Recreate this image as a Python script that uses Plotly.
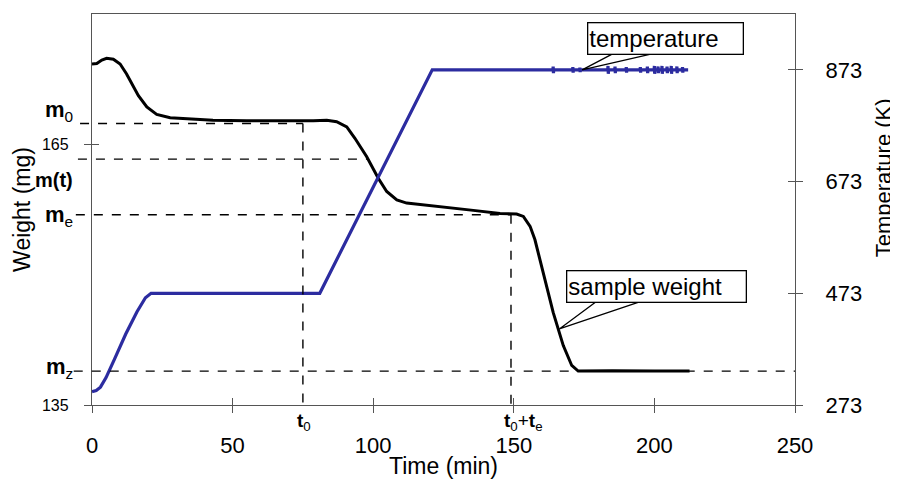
import plotly.graph_objects as go

# ---------------- data ----------------
weight_time = [0, 1.7, 3.5, 5.2, 7.6, 10, 12.3, 14.1, 16.5, 19.5, 23, 27.8, 34.9, 43, 55,
               72.8, 78.7, 83.5, 87, 90.6, 93.5, 97.7, 101.8, 104.8, 108.4, 111.9, 123.8,
               135.6, 145.1, 151, 153.4, 155.8, 157.5, 160.5, 164, 167.6, 170.6, 172.9,
               185, 200, 212.5]
weight_mg = [174.25, 174.3, 174.7, 174.9, 174.8, 174.25, 173.1, 172.0, 170.6, 169.3, 168.45,
             168.07, 167.9, 167.77, 167.7, 167.65, 167.7, 167.77, 167.6, 167.0, 165.7, 163.57,
             161.1, 159.57, 158.6, 158.24, 157.85, 157.4, 157.05, 156.98, 156.7, 155.56,
             154.04, 150.23, 145.66, 141.84, 139.55, 138.9, 138.95, 138.9, 138.9]

temp_time = [0, 1.5, 3, 5, 8, 12, 16, 19, 21, 81, 121, 150,
             163.9, 164.0, 164.1, 164.2,
             170.9, 171.0, 171.1, 171.2,
             173.4, 173.5, 173.6, 173.7,
             183.4, 183.5, 183.6, 183.7,
             185.9, 186.0, 186.1, 186.2,
             189.9, 190.0, 190.1, 190.2,
             194.9, 195.0, 195.1, 195.2,
             197.4, 197.5, 197.6, 197.7,
             199.9, 200.0, 200.1, 200.2,
             201.2, 201.3, 201.4, 201.5,
             202.6, 202.7, 202.8, 202.9,
             204.4, 204.5, 204.6, 204.7,
             205.9, 206.0, 206.1, 206.2,
             207.9, 208.0, 208.1, 208.2,
             209.9, 210.0, 210.1, 210.2,
             212]
temp_K = [297, 299, 305, 322, 355, 400, 440, 465, 473, 473, 873, 873,
          873, 879, 867, 873,
          873, 878, 868, 873,
          873, 877, 869, 873,
          873, 880, 866, 873,
          873, 879, 867, 873,
          873, 878, 868, 873,
          873, 878, 868, 873,
          873, 879, 867, 873,
          873, 880, 866, 873,
          873, 879, 867, 873,
          873, 880, 866, 873,
          873, 879, 867, 873,
          873, 880, 866, 873,
          873, 879, 867, 873,
          873, 878, 868, 873,
          873]

x_ticks = [0, 50, 100, 150, 200, 250]
w_ticks = [135, 165]
t_ticks = [273, 473, 673, 873]

X_MAX = 250
W_RANGE = [135, 180]
T_RANGE = [273, 973]

m0, mt, me, mz = 167.4, 163.3, 156.9, 138.9
t0, t0_te = 75, 149

FONT = "Liberation Sans, Arial, sans-serif"


def xp(t):
    return t / X_MAX


fig = go.Figure()
fig.add_trace(go.Scatter(x=weight_time, y=weight_mg, mode="lines",
                         line=dict(color="black", width=3), yaxis="y",
                         showlegend=False, hoverinfo="skip"))
fig.add_trace(go.Scatter(x=temp_time, y=temp_K, mode="lines",
                         line=dict(color="rgb(44,44,160)", width=3.2), yaxis="y2",
                         showlegend=False, hoverinfo="skip"))
# dummy traces to create overlay axes carrying inward tick marks
fig.add_trace(go.Scatter(x=[None], y=[None], xaxis="x2", yaxis="y", showlegend=False, hoverinfo="skip"))
fig.add_trace(go.Scatter(x=[None], y=[None], xaxis="x", yaxis="y3", showlegend=False, hoverinfo="skip"))
fig.add_trace(go.Scatter(x=[None], y=[None], xaxis="x", yaxis="y4", showlegend=False, hoverinfo="skip"))

axcol = "#555555"
tickfont_big = dict(family=FONT, size=22, color="black")

# the page adds an 8px body margin, so the figure is sized to fit inside the window
fig.update_layout(
    width=890, height=471,
    margin=dict(l=84, r=103, t=5, b=72),
    plot_bgcolor="white", paper_bgcolor="white",
    font=dict(family=FONT, color="black"),
    xaxis=dict(range=[0, X_MAX], tickvals=x_ticks, ticks="outside", ticklen=7, tickcolor=axcol,
               showline=True, linecolor=axcol, linewidth=1.3, mirror=True, showgrid=False,
               zeroline=False, tickfont=tickfont_big, ticklabelstandoff=13,
               title=dict(text="Time (min)", font=dict(family=FONT, size=23), standoff=0)),
    xaxis2=dict(range=[0, X_MAX], tickvals=x_ticks, ticks="inside", ticklen=7, tickcolor=axcol,
                overlaying="x", anchor="y", showticklabels=False, showgrid=False,
                zeroline=False, showline=False),
    yaxis=dict(range=W_RANGE, tickvals=w_ticks, ticks="outside", ticklen=7, tickcolor=axcol,
               showline=True, linecolor=axcol, linewidth=1.3, showgrid=False, zeroline=False,
               tickfont=dict(family=FONT, size=16, color="black"), ticklabelstandoff=12,
               title=dict(text="Weight (mg)", font=dict(family=FONT, size=23), standoff=4)),
    yaxis2=dict(range=T_RANGE, tickvals=t_ticks, ticks="outside", ticklen=7, tickcolor=axcol,
                overlaying="y", side="right", showline=True, linecolor=axcol, linewidth=1.3,
                showgrid=False, zeroline=False, tickfont=tickfont_big, ticklabelstandoff=18),
    yaxis3=dict(range=W_RANGE, tickvals=w_ticks, ticks="inside", ticklen=7, tickcolor=axcol,
                overlaying="y", side="left", showticklabels=False, showgrid=False,
                zeroline=False, showline=False),
    yaxis4=dict(range=T_RANGE, tickvals=t_ticks, ticks="inside", ticklen=7, tickcolor=axcol,
                overlaying="y", side="right", showticklabels=False, showgrid=False,
                zeroline=False, showline=False),
)

dash = dict(color="black", width=1.4, dash="dash")
# horizontal reference lines (start left of the axis)
for level, x_start, x_end in [(m0, -0.017, xp(t0)), (mt, -0.02, xp(98)),
                              (me, -0.023, xp(t0_te)), (mz, -0.026, 1.0)]:
    fig.add_shape(type="line", xref="paper", yref="y", x0=x_start, x1=x_end,
                  y0=level, y1=level, line=dash, layer="above")
# vertical reference lines
fig.add_shape(type="line", xref="x", yref="y", x0=t0, x1=t0, y0=m0, y1=W_RANGE[0], line=dash)
fig.add_shape(type="line", xref="x", yref="y", x0=t0_te, x1=t0_te, y0=me, y1=W_RANGE[0], line=dash)

# level labels on the left
for txt, level, yshift, size in [("<b>m</b><sub>0</sub>", m0, 12, 22), ("<b>m(t)</b>", mt, -21, 20),
                                 ("<b>m</b><sub>e</sub>", me, -1, 22), ("<b>m</b><sub>z</sub>", mz, 3, 22)]:
    fig.add_annotation(text=txt, xref="paper", yref="y", x=-0.024, y=level, yshift=yshift,
                       xanchor="right", yanchor="middle", showarrow=False,
                       font=dict(family=FONT, size=size, color="black"))

# time labels below the axis
tfont = dict(family=FONT, size=19, color="black")
fig.add_annotation(text="<b>t</b><sub>0</sub>", xref="x", yref="paper", x=t0, y=0, yshift=-17,
                   xanchor="left", xshift=-8, yanchor="middle", showarrow=False, font=tfont)
fig.add_annotation(text="<b>t</b><sub>0</sub>+<b>t</b><sub>e</sub>", xref="x", yref="paper",
                   x=t0_te, y=0, yshift=-17, xanchor="left", xshift=-9, yanchor="middle",
                   showarrow=False, font=tfont)

# right axis title
fig.add_annotation(text="Temperature (K)", xref="paper", yref="paper", x=1.146, y=0.58,
                   textangle=-90, showarrow=False, font=dict(family=FONT, size=22))

# callout boxes
cfont = dict(family=FONT, size=24, color="black")
fig.add_annotation(text="temperature", xref="x", yref="y2", x=203.8, y=929, width=152, height=28,
                   align="left", showarrow=False, font=cfont, bordercolor="black",
                   borderwidth=1.3, borderpad=1, bgcolor="white")
fig.add_shape(type="path", xref="x", yref="y2",
              path="M 185.3 902 L 174.3 873 L 199.5 902", line=dict(color="black", width=1.3))
fig.add_annotation(text="sample weight", xref="x", yref="y", x=200.6, y=148.6, width=176, height=28,
                   align="left", showarrow=False, font=cfont, bordercolor="black",
                   borderwidth=1.3, borderpad=1, bgcolor="white")
fig.add_shape(type="path", xref="x", yref="y",
              path="M 178.9 146.8 L 166.2 143.75 L 194.2 146.8", line=dict(color="black", width=1.3))

fig.write_html("out.html")
